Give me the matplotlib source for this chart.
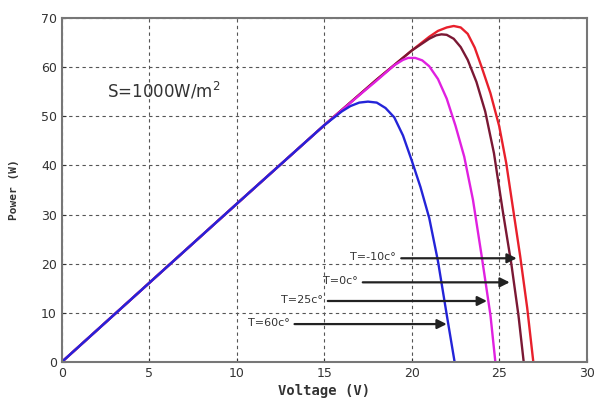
import matplotlib
matplotlib.use("Agg")
import matplotlib.pyplot as plt

# Courbes P-V (tension en V, puissance en W)
v_m10 = [0, 5, 10, 15, 18, 20, 21, 21.5, 22, 22.4, 22.8, 23.2, 23.6, 24, 24.5, 25, 25.4, 25.8, 26.2, 26.6, 26.95]
p_m10 = [0, 16.1, 32.2, 48.2, 57.5, 63.4, 66.2, 67.4, 68.1, 68.4, 68.1, 66.8, 64.0, 60.0, 54.7, 48.0, 40.5, 31.0, 21.5, 11.0, 0]

v_0 = [0, 5, 10, 15, 18, 20, 21, 21.4, 21.7, 22, 22.4, 22.8, 23.2, 23.7, 24.2, 24.7, 25.2, 25.7, 26.1, 26.4]
p_0 = [0, 16.1, 32.2, 48.2, 57.5, 63.4, 65.8, 66.5, 66.7, 66.6, 65.8, 64.1, 61.5, 57.0, 51.0, 42.5, 30.8, 19.8, 9.5, 0]

v_25 = [0, 5, 10, 15, 17, 18, 19, 19.5, 19.8, 20.2, 20.6, 21, 21.5, 22, 22.5, 23, 23.5, 24, 24.5, 24.78]
p_25 = [0, 16.1, 32.2, 48.2, 54.3, 57.3, 60.4, 61.5, 61.9, 61.9, 61.4, 60.2, 57.6, 53.6, 48.1, 41.8, 33.0, 21.5, 9.5, 0]

v_60 = [0, 5, 10, 15, 16, 16.5, 17, 17.5, 18, 18.5, 19, 19.5, 20, 20.5, 21, 21.5, 22, 22.45]
p_60 = [0, 16.1, 32.2, 48.2, 51.0, 52.1, 52.8, 53.0, 52.8, 51.7, 49.8, 46.1, 41.0, 35.6, 29.3, 20.5, 9.6, 0]

labels = ["T=-10c°", "T=0c°", "T=25c°", "T=60c°"]
arrow_start = [(19.4, 21.1), (17.2, 16.2), (15.2, 12.4), (13.3, 7.7)]
arrow_end = [(26.0, 21.1), (25.6, 16.2), (24.3, 12.4), (22.0, 7.7)]

fig = plt.figure(figsize=(5.95, 4.03), dpi=100)
ax = fig.add_axes([0.104, 0.102, 0.882, 0.853])

ax.plot(v_m10, p_m10, color='#e8202c', lw=1.7)
ax.plot(v_0, p_0, color='#7a1834', lw=1.7)
ax.plot(v_25, p_25, color='#e020e0', lw=1.7)
ax.plot(v_60, p_60, color='#2424d8', lw=1.7)

for lab, s, e in zip(labels, arrow_start, arrow_end):
    ax.annotate("", xy=e, xytext=s,
                arrowprops=dict(arrowstyle='-|>', color='#222222', lw=1.6,
                                mutation_scale=14, shrinkA=0, shrinkB=0))
    ax.text(s[0] - 0.3, s[1] + 0.3, lab, ha='right', va='center', fontsize=8, color='#333333')

ax.text(2.6, 55.2, "S=1000W/m$^2$", fontsize=12, color='#333333', va='center')

ax.set_xlim(0, 30)
ax.set_ylim(0, 70)
ax.set_xticks(range(0, 31, 5))
ax.set_yticks(range(0, 71, 10))
ax.tick_params(direction='in', length=3, labelsize=9, colors='#333333')
ax.grid(True, color='#555555', linestyle=(0, (3, 3)), lw=0.8)
for sp in ax.spines.values():
    sp.set_color('#777777')
    sp.set_linewidth(1.5)

ax.set_xlabel("Voltage (V)", family='DejaVu Sans Mono', fontweight='bold', fontsize=10, color='#333333', labelpad=3)
ax.set_ylabel("Power (W)", family='DejaVu Sans Mono', fontweight='bold', fontsize=8, color='#333333', labelpad=16)

fig.savefig("out.png", dpi=100)
